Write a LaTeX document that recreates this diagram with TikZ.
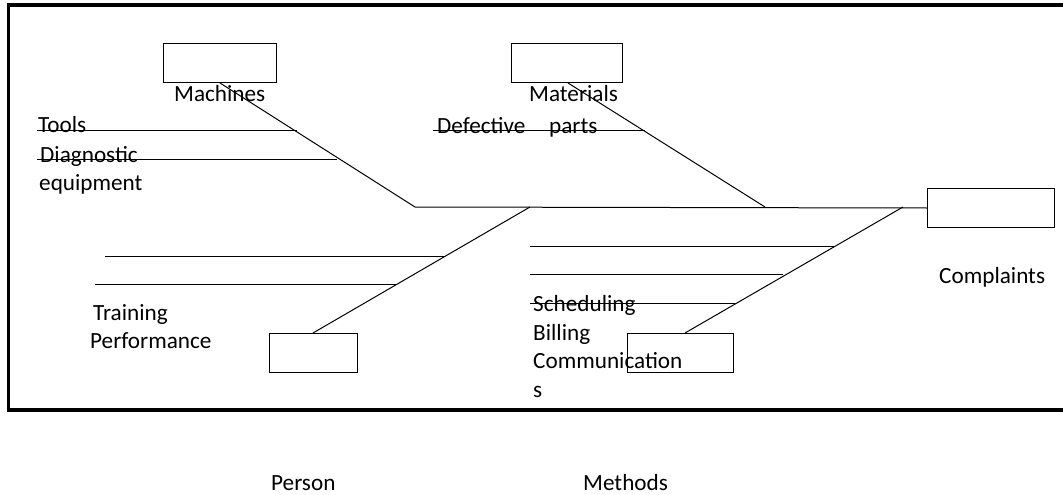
\documentclass[tikz,border=0pt]{standalone}
\usepackage{fontspec}
\setmainfont{Carlito}
\begin{document}
\begin{tikzpicture}[x=1pt,y=-1pt,
  causebox/.style={draw,line width=1pt,minimum width=#1,minimum height=39pt,inner sep=0pt,anchor=north west},
  bone/.style={line width=1pt},
  lbl/.style={anchor=base west,inner sep=0pt,font=\fontsize{23.2}{27}\selectfont}]
\useasboundingbox (0,0) rectangle (1063,495);
% open frame (no right side)
\draw[line width=3.6pt] (1063,5) -- (8.5,5) -- (8.5,410) -- (1063,410);

% category boxes
\node[causebox=113pt] (mach) at (163,43) {};
\node[causebox=111pt] (matl) at (511,43) {};
\node[causebox=127pt] (comp) at (927,188) {};
\node[causebox=88pt]  (pers) at (269,333) {};
\node[causebox=106pt] (meth) at (627,333) {};

% spine and main bones
\coordinate (tail) at (415,207);
\coordinate (jmat) at (765,207);
\coordinate (jper) at (530,207);
\coordinate (jmet) at (903,207);
\draw[bone] (tail) -- (comp.west);
\draw[bone] (mach.south west) ++(57,0) coordinate (mfoot) (mfoot) -- (tail);
\draw[bone] (matl.south west) ++(57,0) coordinate (tfoot) (tfoot) -- (jmat);
\draw[bone] (pers.north west) ++(44,0) coordinate (pfoot) (pfoot) -- (jper);
\draw[bone] (meth.north west) ++(58,0) coordinate (efoot) (efoot) -- (jmet);

% ribs
\coordinate (r1a) at (37,130);  \coordinate (r1b) at (297,130);
\coordinate (r2a) at (37,159);  \coordinate (r2b) at (337,159);
\coordinate (r3a) at (433,130); \coordinate (r3b) at (645,130);
\coordinate (r4a) at (105,256); \coordinate (r4b) at (445,256);
\coordinate (r5a) at (95,284);  \coordinate (r5b) at (396,284);
\coordinate (r6a) at (530,246); \coordinate (r6b) at (835,246);
\coordinate (r7a) at (530,274); \coordinate (r7b) at (783,274);
\coordinate (r8a) at (530,303); \coordinate (r8b) at (735,303);
\foreach \r in {1,...,8} {\draw[bone] (r\r a) -- (r\r b);}

% labels
\node[lbl] (tmach) at (174,102) {Machines};
\node[lbl] (ttool) at (38,132) {Tools};
\node[lbl] (tdiag) at (40,162) {Diagnostic};
\node[lbl] (tequi) at (39,190) {equipment};
\node[lbl] (tmatl) at (529,102) {Materials};
\node[lbl] (tdefe) at (437,133) {Defective};
\node[lbl] (tpart) at (549,133) {parts};
\node[lbl] (tcomp) at (939,283) {Complaints};
\node[lbl] (ttrai) at (93,320) {Training};
\node[lbl] (tperf) at (90,348) {Performance};
\node[lbl] (tsche) at (533,311) {Scheduling};
\node[lbl] (tbill) at (533,340) {Billing};
\node[lbl] (tcomm) at (533,368) {Communication};
\node[lbl] (tcoms) at (533,397) {s};
\node[lbl] (tpers) at (271,490) {Person};
\node[lbl] (tmeth) at (583,490) {Methods};
\end{tikzpicture}
\end{document}
